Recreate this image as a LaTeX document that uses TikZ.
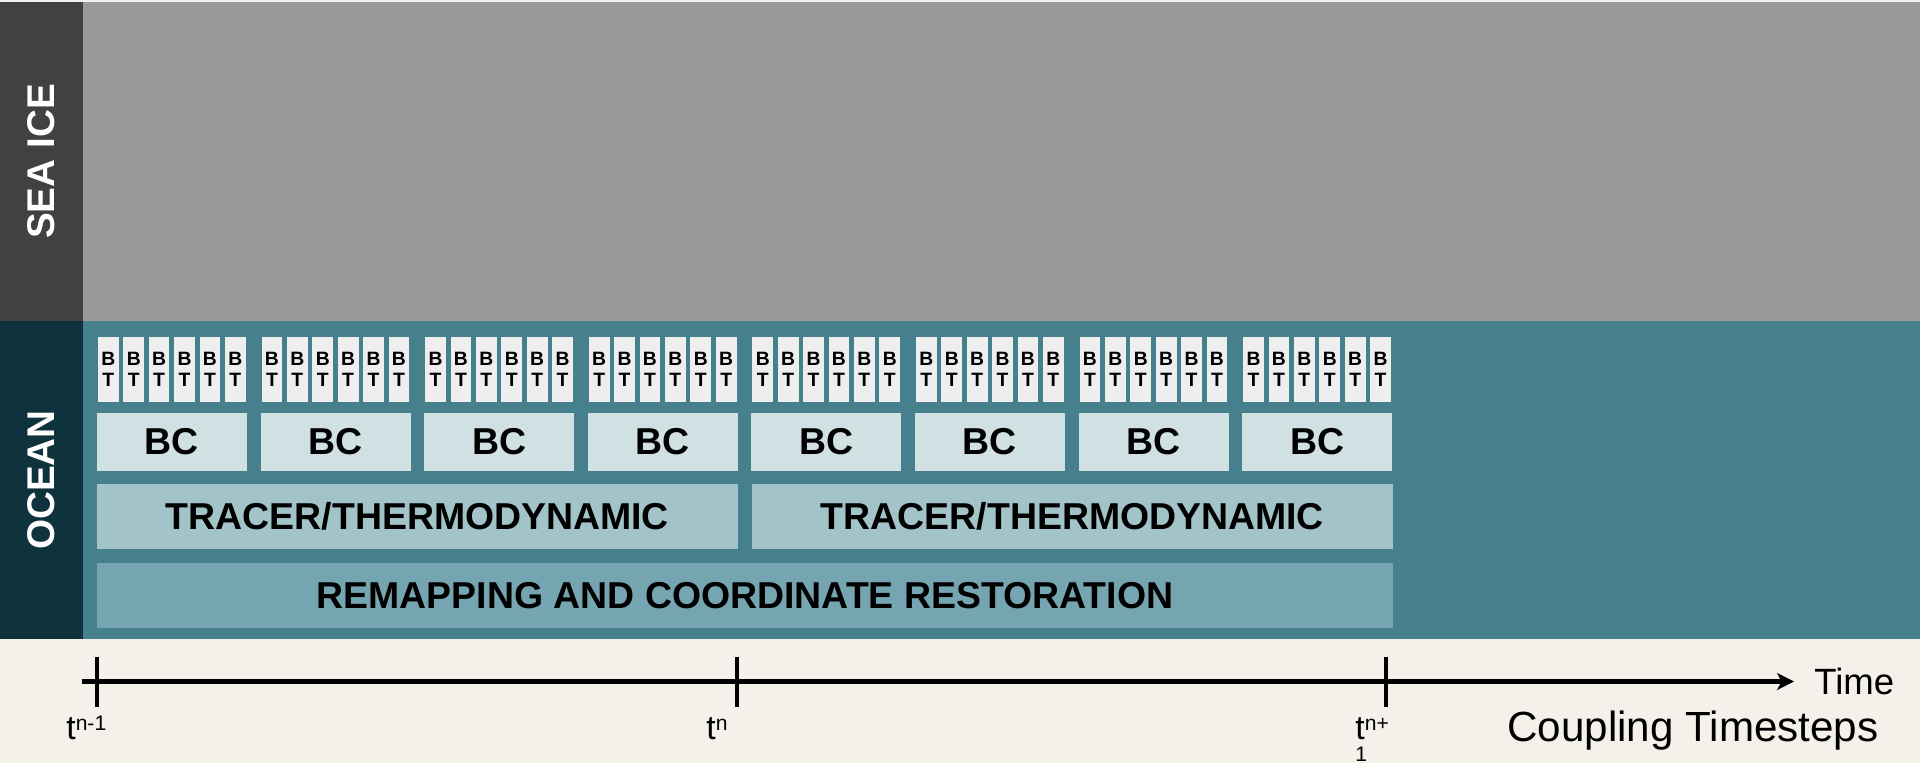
\documentclass[tikz,border=0pt]{standalone}
\usepackage{fontspec}
\setmainfont{Liberation Sans}
\usetikzlibrary{arrows.meta}

\definecolor{bgbeige}{HTML}{F4F0EA}
\definecolor{icedark}{HTML}{414141}
\definecolor{iceband}{HTML}{999999}
\definecolor{oceandark}{HTML}{0E333C}
\definecolor{oceanband}{HTML}{46808C}
\definecolor{btfill}{HTML}{EEEEEE}
\definecolor{bcfill}{HTML}{D0E0E3}
\definecolor{tracerfill}{HTML}{A2C3C8}
\definecolor{remapfill}{HTML}{75A5B0}

\newcommand{\tsup}[1]{\raisebox{5pt}{\fontsize{12pt}{12pt}\selectfont #1}}

\begin{document}
\begin{tikzpicture}[x=0.02cm, y=-0.02cm,
    block/.style={anchor=north west, inner sep=0pt, outer sep=0pt,
        font=\bfseries\fontsize{21.3pt}{24pt}\selectfont},
    btbox/.style={block, fill=btfill, minimum width=0.414cm, minimum height=1.3cm,
        align=center, font=\bfseries\fontsize{11pt}{11.9pt}\selectfont},
    bcbox/.style={block, fill=bcfill, minimum width=3cm, minimum height=1.16cm},
    tracerbox/.style={block, fill=tracerfill, minimum width=12.82cm, minimum height=1.3cm},
    remapbox/.style={block, fill=remapfill, minimum width=25.92cm, minimum height=1.3cm},
    bandlabel/.style={rotate=90, text=white, font=\bfseries\fontsize{22pt}{26pt}\selectfont},
    tickmark/.style={line width=2.5pt},
    ticklabel/.style={anchor=base west, inner sep=0pt, align=left,
        font=\fontsize{19.3pt}{12.5pt}\selectfont}]

    % pozadi
    \fill[bgbeige] (0,0) rectangle (1920,763);
    \useasboundingbox (0,0) rectangle (1920,763);

    % sea ice
    \fill[iceband] (0,2) rectangle (1920,321);
    \fill[icedark] (0,2) rectangle (83,321);
    \node[bandlabel] (seaice) at (41.5,161.5) {SEA ICE};

    % ocean
    \fill[oceanband] (0,321) rectangle (1920,639);
    \fill[oceandark] (0,321) rectangle (83,639);
    \node[bandlabel] (ocean) at (41.5,480) {OCEAN};

    % BT substeps
    \foreach \g in {0,...,7}
        \foreach \i in {0,...,5}
            \node[btbox] (bt-\g-\i) at ({98+163.6*\g+25.4*\i},337) {B\\T};

    % BC
    \foreach \g in {0,...,7}
        \node[bcbox] (bc-\g) at ({97+163.6*\g},413) {BC};

    % tracer
    \node[tracerbox] (tracer-1) at (97,484) {TRACER/THERMODYNAMIC};
    \node[tracerbox] (tracer-2) at (752,484) {TRACER/THERMODYNAMIC};

    % remapping
    \node[remapbox] (remap) at (97,563) {REMAPPING AND COORDINATE RESTORATION};

    % casova osa
    \coordinate (axis-start) at (82,681.5);
    \coordinate (axis-end) at (1794,681.5);
    \draw[line width=2.83pt, -{Stealth[length=9.6pt, width=9.6pt, inset=2.5pt]}]
        (axis-start) -- (axis-end);
    \node[anchor=base west, inner sep=0pt, font=\fontsize{20.8pt}{24pt}\selectfont]
        (time) at (1814,694) {Time};

    % ticks
    \foreach \x/\n in {97/prev, 736.7/now, 1385.7/next} {
        \coordinate (tick-\n-a) at (\x,656.7);
        \coordinate (tick-\n-b) at (\x,706.7);
        \draw[tickmark] (tick-\n-a) -- (tick-\n-b);
    }

    % popisky
    \node[ticklabel] (lab-prev) at (66,739.3) {t\tsup{n-1}};
    \node[ticklabel] (lab-now) at (706,739.3) {t\tsup{n}};
    \node[ticklabel] (lab-next) at (1355,761.3)
        {t\tsup{n+}\\{\fontsize{12pt}{12pt}\selectfont 1}};
    \node[anchor=base west, inner sep=0pt, font=\fontsize{24pt}{26pt}\selectfont]
        (coupling) at (1507,741.7) {Coupling Timesteps};
\end{tikzpicture}
\end{document}
